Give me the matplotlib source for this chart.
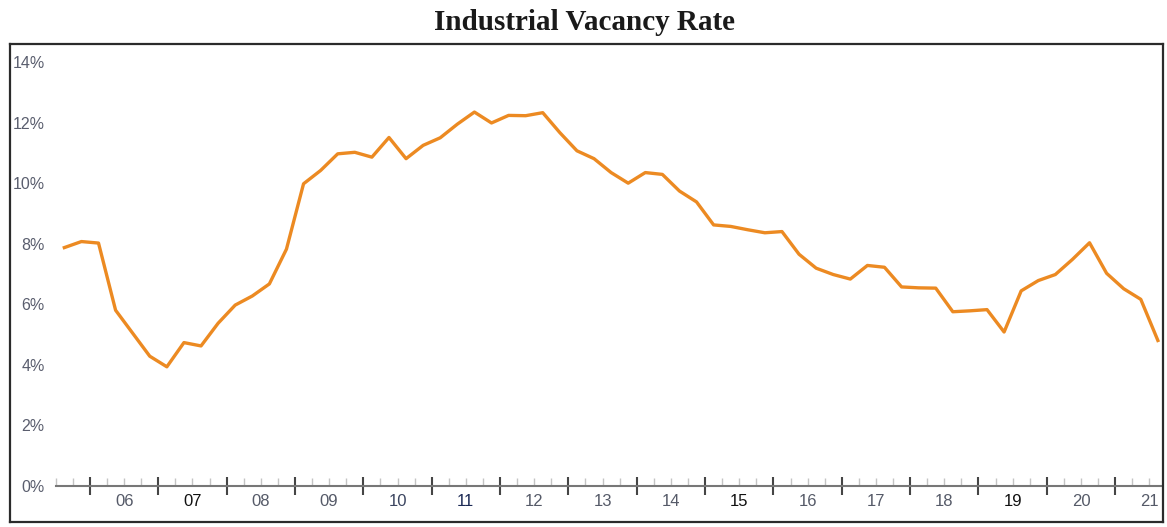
import numpy as np
import pandas as pd
import matplotlib
matplotlib.use("Agg")
import matplotlib.pyplot as plt

# quarterly industrial vacancy rate, 2005Q3 .. 2021Q3 (values in %)
quarters = pd.period_range("2005Q3", "2021Q3", freq="Q")
vacancy = [7.88, 8.08, 8.03, 5.81, 5.05, 4.29, 3.94, 4.74, 4.63, 5.38,
           5.98, 6.28, 6.68, 7.83, 9.99, 10.43, 10.98, 11.03, 10.87, 11.52,
           10.82, 11.26, 11.51, 11.96, 12.36, 12.00, 12.25, 12.24, 12.34, 11.68,
           11.08, 10.82, 10.36, 10.01, 10.36, 10.30, 9.75, 9.39, 8.63, 8.58,
           8.47, 8.37, 8.41, 7.66, 7.20, 6.99, 6.84, 7.29, 7.23, 6.58,
           6.55, 6.54, 5.76, 5.79, 5.83, 5.09, 6.45, 6.79, 6.99, 7.49,
           8.04, 7.03, 6.52, 6.17, 4.81]

years = list(range(2006, 2022))
year_labels = ["06", "07", "08", "09", "10", "11", "12", "13",
               "14", "15", "16", "17", "18", "19", "20", "21"]
year_colors = ["#555a68", "#111111", "#555a68", "#555a68", "#3b4560", "#1c2a55",
               "#555a68", "#555a68", "#555a68", "#111111", "#555a68", "#555a68",
               "#555a68", "#111111", "#555a68", "#555a68"]
yticks = [0, 2, 4, 6, 8, 10, 12, 14]

# x position = middle of the quarter, in fractional years
x = np.array([p.year + (p.quarter - 1) / 4 + 0.125 for p in quarters])

W, H = 1167, 527
fig = plt.figure(figsize=(W / 100, H / 100), dpi=100)

# axes box in pixels (left, top, right, bottom)
L, T, R, B = 10, 44, 1163, 522
ax = fig.add_axes([L / W, 1 - B / H, (R - L) / W, (B - T) / H])

ax.plot(x, vacancy, color="#ec8a22", lw=2.4, solid_joinstyle="round", zorder=3)

xmin, xmax = 2004.83, 2021.70
ymin, ymax = -1.19, 14.61
ax.set_xlim(xmin, xmax)
ax.set_ylim(ymin, ymax)

for s in ax.spines.values():
    s.set_color("#2b2b2b")
    s.set_linewidth(1.6)

# y labels sit inside the box
ax.set_yticks(yticks)
ax.set_yticklabels([f"{v}%" for v in yticks], fontsize=11.5,
                   color="#5a5e6e", family="Liberation Sans")
ax.tick_params(axis="y", length=0, pad=-25.0)
ax.set_xticks([])

# the 0% axis line with year / quarter ticks
x0 = quarters[0].year + (quarters[0].quarter - 1) / 4
ax.axhline(0, xmin=(x0 - xmin) / (xmax - xmin), xmax=1,
           color="#777777", lw=1.5, zorder=2)
yfrac = (0 - ymin) / (ymax - ymin)
sec = ax.secondary_xaxis(yfrac)
sec.spines["bottom"].set_visible(False)
sec.set_xticks(years)
sec.set_xticklabels([""] * len(years))
qticks = [y + q / 4 for y in range(2005, 2022) for q in (1, 2, 3)
          if x0 <= y + q / 4 < xmax]
sec.set_xticks(qticks, minor=True)
sec.tick_params(which="major", direction="inout", length=13, width=1.5,
                color="#454545")
sec.tick_params(which="minor", direction="in", length=6, width=1,
                color="#c4c4c4")

for yr, lab, c in zip(years, year_labels, year_colors):
    ax.text(yr + 0.5, -0.5, lab, ha="center", va="center", fontsize=12,
            color=c, family="Liberation Sans")

fig.text(0.501, 1 - 22 / H, "Industrial Vacancy Rate", ha="center",
         va="center", fontsize=21, fontweight="bold",
         family="Liberation Serif", color="#1a1a1a")

fig.savefig("out.png", dpi=100)
